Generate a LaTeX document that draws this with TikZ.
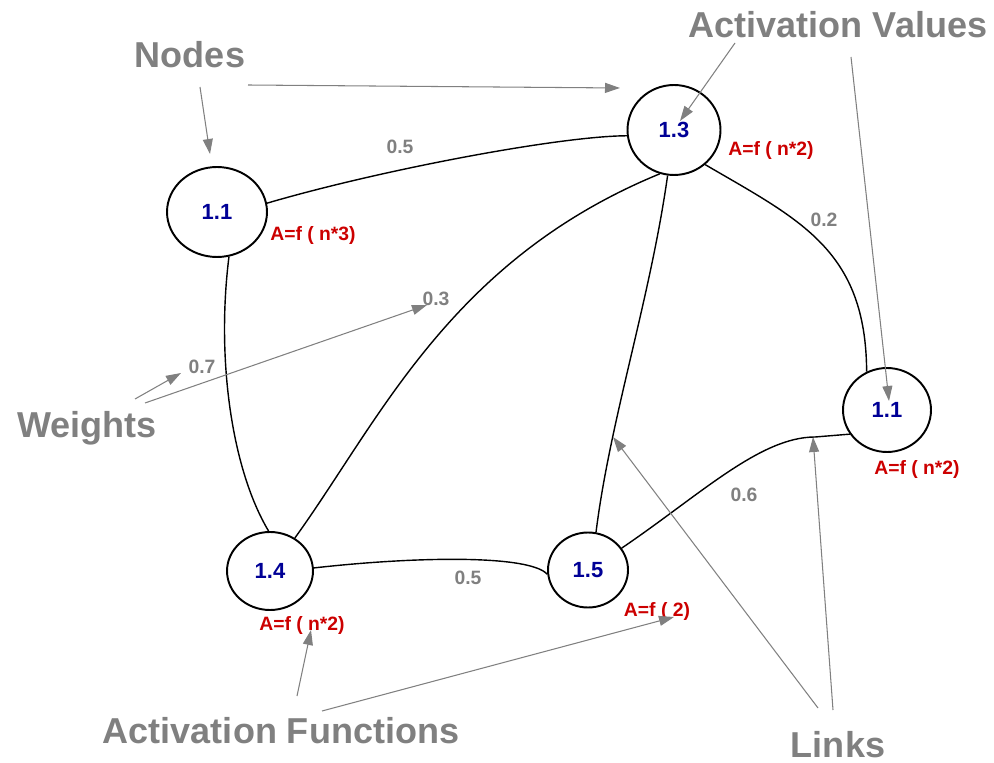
\documentclass[tikz,border=0pt]{standalone}
\usepackage{fontspec}
\setmainfont{Liberation Sans}
\usetikzlibrary{arrows.meta,shapes.geometric}
\definecolor{annogray}{RGB}{128,128,128}
\definecolor{valblue}{RGB}{0,0,150}
\definecolor{funred}{RGB}{204,0,0}

\begin{document}
\begin{tikzpicture}[x=0.02cm,y=-0.02cm,
	unit/.style={draw,ellipse,line width=1.1pt,inner sep=0pt,font=\bfseries\fontsize{12.5}{12.5}\selectfont,text=valblue},
	actfn/.style={anchor=base,inner sep=0pt,font=\bfseries\fontsize{11}{11}\selectfont,text=funred},
	wgt/.style={anchor=base,inner sep=0pt,font=\bfseries\fontsize{11}{11}\selectfont,text=annogray},
	tag/.style={anchor=base,inner sep=0pt,font=\bfseries\fontsize{20.5}{20.5}\selectfont,text=annogray},
	link/.style={line width=0.8pt},
	pointer/.style={draw=annogray,line width=0.6pt,-{Triangle[length=0.3cm,width=0.2cm]}}]
	\useasboundingbox (0,0) rectangle (994,763);

	\node[unit,minimum width=2cm,minimum height=1.8cm] (n11a) at (217,212) {1.1};
	\node[unit,minimum width=1.86cm,minimum height=1.8cm] (n13) at (674,130) {1.3};
	\node[unit,minimum width=1.76cm,minimum height=1.68cm] (n11b) at (887,410) {1.1};
	\node[unit,minimum width=1.72cm,minimum height=1.56cm] (n14) at (270,571) {1.4};
	\node[unit,minimum width=1.6cm,minimum height=1.5cm] (n15) at (588,570) {1.5};

	\node[actfn] (f11a) at (313,241) {A=f ( n*3)};
	\node[actfn] (f13) at (771,156) {A=f ( n*2)};
	\node[actfn] (f11b) at (917,475) {A=f ( n*2)};
	\node[actfn] (f14) at (302,630) {A=f ( n*2)};
	\node[actfn] (f15) at (657,616) {A=f ( 2)};

	\draw[link] (n11a.10) .. controls (380,170) and (560,136) .. (n13.187);
	\draw[link] (n11a.-75) .. controls (216,360) and (232,470) .. (n14.92);
	\draw[link] (n14.53) .. controls (380,420) and (450,260) .. (n13.-108);
	\draw[link] (n13.-98) .. controls (650,300) and (610,420) .. (n15.78);
	\draw[link] (n13.-48) .. controls (800,220) and (866,250) .. (n11b.118);
	\draw[link] (n14.4) .. controls (420,556) and (530,555) .. (n15.186);
	\draw[link] (n15.33) .. controls (700,495) and (760,437) .. (815,437) -- (n11b.213);

	\node[wgt] (w1) at (400,154) {0.5};
	\node[wgt] (w2) at (824,227) {0.2};
	\node[wgt] (w3) at (436,306) {0.3};
	\node[wgt] (w4) at (202,374) {0.7};
	\node[wgt] (w5) at (744,501) {0.6};
	\node[wgt] (w6) at (468,584) {0.5};

	\node[tag] (nodestag) at (190,68) {Nodes};
	\node[tag] (valtag) at (838,38) {Activation Values};
	\node[tag] (wgttag) at (87,438) {Weights};
	\node[tag] (funtag) at (281,743) {Activation Functions};
	\node[tag] (linktag) at (838,757) {Links};

	\coordinate (nodesA) at (248,85);
	\coordinate (nodesB) at (200,87);
	\coordinate (valA) at (735,43);
	\coordinate (valB) at (851,57);
	\coordinate (wgtA) at (135,399);
	\coordinate (wgtB) at (145,403);
	\coordinate (funA) at (297,696);
	\coordinate (funB) at (322,711);
	\coordinate (linkA) at (818,708);
	\coordinate (linkB) at (833,710);

	\coordinate (tipnodesA) at (620,88);
	\coordinate (tipnodesB) at (210,154);
	\coordinate (tipvalA) at (680,121);
	\coordinate (tipvalB) at (889,401);
	\coordinate (tipwgtA) at (181,373);
	\coordinate (tipwgtB) at (427,305);
	\coordinate (tipfunA) at (311,630);
	\coordinate (tipfunB) at (674,617);
	\coordinate (tiplinkA) at (613,437);
	\coordinate (tiplinkB) at (813,437);

	\draw[pointer] (nodesA) -- (tipnodesA);
	\draw[pointer] (nodesB) -- (tipnodesB);
	\draw[pointer] (valA) -- (tipvalA);
	\draw[pointer] (valB) -- (tipvalB);
	\draw[pointer] (wgtA) -- (tipwgtA);
	\draw[pointer] (wgtB) -- (tipwgtB);
	\draw[pointer] (funA) -- (tipfunA);
	\draw[pointer] (funB) -- (tipfunB);
	\draw[pointer] (linkA) -- (tiplinkA);
	\draw[pointer] (linkB) -- (tiplinkB);
\end{tikzpicture}
\end{document}
